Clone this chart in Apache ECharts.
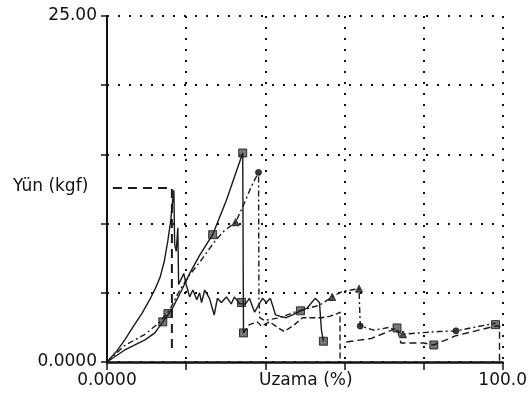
<!DOCTYPE html>
<html>
<head>
<meta charset="utf-8">
<script src="https://cdn.jsdelivr.net/npm/echarts@6/dist/echarts.min.js"></script>
<style>html,body{margin:0;padding:0;background:#fff}#c{width:530px;height:403px}</style>
</head>
<body>
<div id="c"></div>
<script>
// Axis ranges / tick labels
var xTickLabels = {0: '0.0000', 100: '100.0'};
var yTickLabels = {0: '0.0000', 25: '25.00'};
var xTitle = 'Uzama (%)';
var yTitle = 'Yün (kgf)';

// Specimen 1: steep rise, break, noisy tail (solid)
var s1 = [[0,0],[2.5,0.8],[4.5,1.6],[6.5,2.5],[8.8,3.5],[10.8,4.5],[12.2,5.3],[13.4,6.1],[14.5,7.3],[15.4,8.8],[16.1,10.2],[16.6,11.7],[16.9,12.4],[17.1,8.5],[17.5,8.0],[17.9,9.7],[18.1,5.6],[18.6,5.9],[19.4,6.4],[20.0,5.6],[20.9,4.7],[21.7,5.2],[22.7,4.5],[23.4,5.0],[23.9,4.3],[24.7,5.2],[25.9,4.6],[27.1,3.4],[27.9,4.6],[28.9,4.3],[30.2,4.7],[31.4,4.2],[32.2,4.7],[33.5,4.2],[35.0,4.2],[36.0,4.6],[37.3,3.6],[38.3,4.1],[39.3,4.6],[40.3,4.3],[41.3,4.6],[42.6,3.4],[43.8,3.3],[45.3,3.2],[46.9,3.4],[48.9,3.7],[50.6,3.9],[52.6,4.6],[53.7,4.3],[54.2,2.3],[54.7,1.5]];
// Specimen 2: rise with squares to 15.1 (solid)
var s2 = [[0,0],[4.5,0.87],[9.6,1.6],[12.1,2.1],[14.1,2.9],[16.4,3.8],[18.9,5.2],[20.9,6.4],[23.4,7.7],[26.7,9.2],[30.2,11.7],[34.3,15.1],[34.5,2.1]];
// Specimen 2 tail (dashed)
var s2tail = [[34.5,2.1],[36.0,2.7],[38.0,2.9],[39.0,2.6],[41.1,2.9],[43.1,2.5],[44.8,2.2],[47.4,2.7],[49.4,3.2],[51.6,3.2],[54.2,3.2],[56.2,3.3],[58.2,3.5],[58.9,3.6],[58.9,0]];
// Specimen 3 (dash-dot with triangles/circles)
var s3 = [[0,0],[4.5,1.2],[9.6,2.0],[13.4,2.9],[15.9,3.8],[18.4,5.2],[20.9,6.3],[23.4,7.2],[27.2,8.7],[29.7,9.5],[32.5,10.1],[34.3,11.2],[36.5,12.7],[38.3,13.7],[38.4,4.5],[38.6,3.2],[39.8,3.0],[43.6,3.2],[47.4,3.6],[51.1,3.9],[53.7,4.1],[56.9,4.7],[59.4,5.1],[61.7,5.2],[63.7,5.3],[64.0,2.6],[67.5,2.3],[71.3,2.5],[74.8,2.0],[78.8,2.1],[83.9,2.2],[88.2,2.25],[92.7,2.5],[98.2,2.8]];
// Specimen 4 (dashed, lower right)
var s4 = [[60.5,1.45],[66.8,1.7],[73.3,2.46],[74.3,1.37],[80.1,1.37],[82.6,1.23],[88.2,1.9],[98.2,2.6],[99.2,2.6],[99.2,0]];
// Peak leader (dashed)
var leader = [[1.5,12.57],[16.4,12.57],[16.4,0.8]];

// Markers
var squares = [[14.1,2.9],[15.4,3.5],[26.7,9.2],[34.3,15.1],[34.5,2.1],[34.0,4.3],[48.9,3.7],[54.7,1.5],[73.3,2.46],[82.6,1.23],[98.2,2.7]];
var triangles = [[32.5,10.1],[56.9,4.7],[63.7,5.3],[74.8,2.0]];
var circles = [[38.3,13.7],[64.0,2.6],[88.2,2.25]];

var FONT = 'DejaVu Sans';
var chart = echarts.init(document.getElementById('c'), null, {renderer: 'canvas'});
function lineS(data, type, w) {
  return {type: 'line', data: data, symbol: 'none', silent: true, animation: false,
    lineStyle: {color: '#1a1a1a', width: w || 1.4, type: type}};
}
function scat(data, sym, size, color) {
  return {type: 'scatter', data: data, symbol: sym, symbolSize: size, silent: true, animation: false,
    itemStyle: {color: color, borderColor: '#111', borderWidth: 1}};
}
chart.setOption({
  backgroundColor: '#fff',
  animation: false,
  grid: {left: 107, right: 26, top: 16, bottom: 41, containLabel: false},
  xAxis: {type: 'value', min: 0, max: 100, interval: 20,
    axisLine: {show: true, onZero: false, lineStyle: {color: '#111', width: 2.5}},
    axisTick: {show: true, length: 8, lineStyle: {color: '#111', width: 1.5}},
    axisLabel: {margin: 10, fontFamily: FONT, fontSize: 17, color: '#111',
      formatter: function (v) { return xTickLabels[v] || ''; }},
    splitLine: {show: true, lineStyle: {color: '#111', width: 2, type: [2, 9]}}
  },
  yAxis: {type: 'value', min: 0, max: 25, interval: 5,
    axisLine: {show: true, onZero: false, lineStyle: {color: '#111', width: 2}},
    axisTick: {show: true, length: 6, lineStyle: {color: '#111', width: 1.5}},
    axisLabel: {margin: 10, fontFamily: FONT, fontSize: 17, color: '#111',
      formatter: function (v) { return yTickLabels[v] || ''; }},
    splitLine: {show: true, lineStyle: {color: '#111', width: 2, type: [2, 9]}}
  },
  graphic: [
    {type: 'text', left: 13, top: 178, style: {text: yTitle, font: '17px "DejaVu Sans"', fill: '#111'}},
    {type: 'text', left: 259, top: 372, style: {text: xTitle, font: '17px "DejaVu Sans"', fill: '#111'}}
  ],
  series: [
    lineS(leader, [9, 6], 2),
    lineS(s1, 'solid', 1.4),
    lineS(s2, 'solid', 1.4),
    lineS(s2tail, [6, 3], 1.4),
    lineS(s3, [6, 3, 2, 3], 1.4),
    lineS(s4, [7, 4], 1.4),
    scat(squares, 'rect', 8, '#555'),
    scat(triangles, 'triangle', 7, '#222'),
    scat(circles, 'circle', 6, '#111')
  ]
});
</script>
</body>
</html>
